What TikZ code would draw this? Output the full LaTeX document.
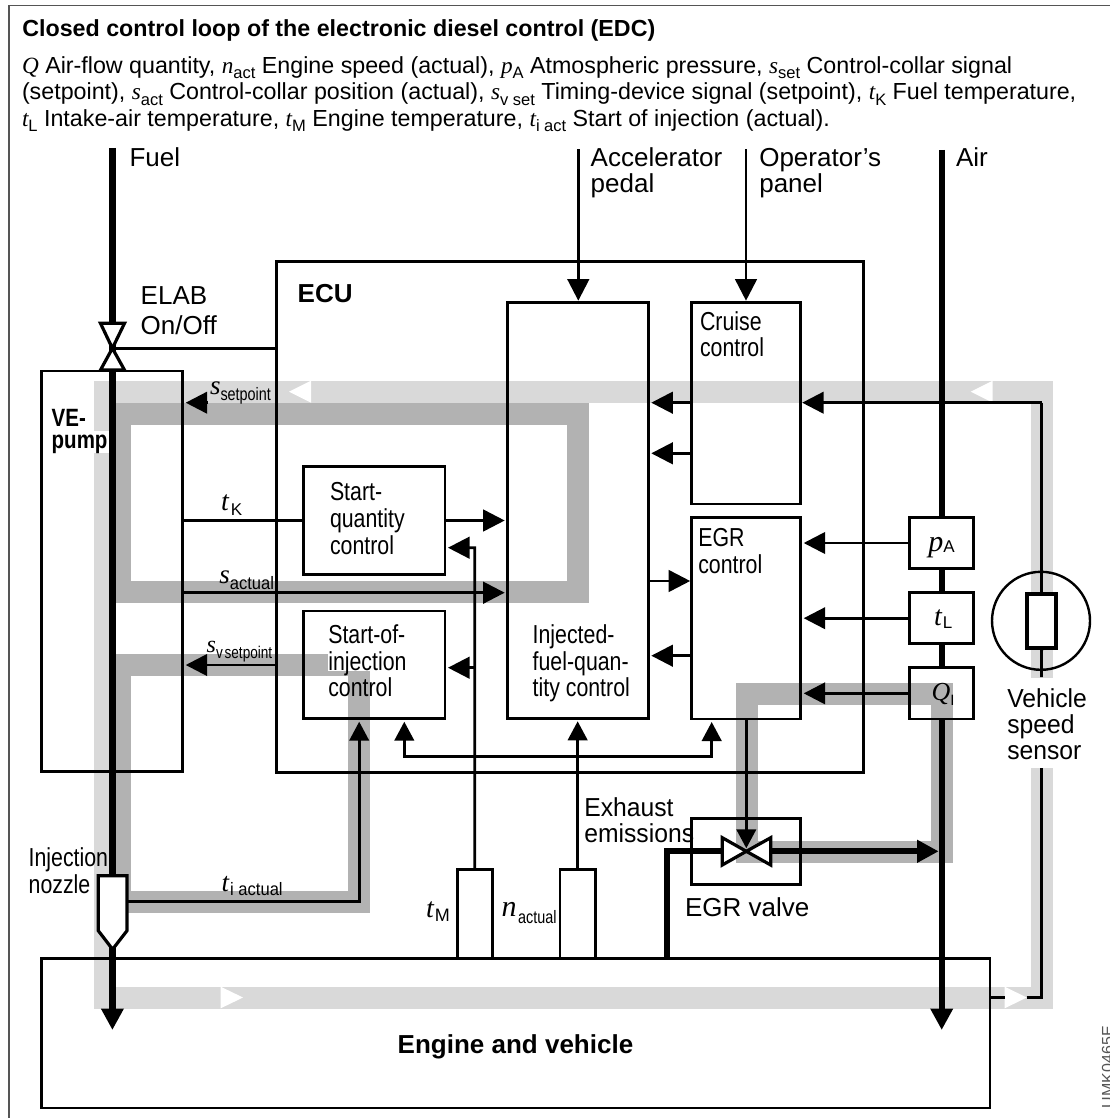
\documentclass[tikz,border=0pt]{standalone}
\usepackage{fontspec}
\usetikzlibrary{arrows.meta}
\setmainfont{Liberation Sans}
\newfontfamily\tms{Liberation Serif}
\newfontfamily\fC[FakeStretch=0.82]{Liberation Sans}
\newfontfamily\fE[FakeStretch=0.80]{Liberation Sans}
\newfontfamily\fN[FakeStretch=0.92]{Liberation Sans}
\newfontfamily\fW[FakeStretch=0.95]{Liberation Sans}
\newcommand\fsz[1]{\fontsize{#1}{#1}\selectfont}
% legend variable: letter, subscript
\newcommand\lv[2]{{\tms\itshape #1}\raisebox{-0.22em}{\fsz{16.5}#2}}
% diagram variable: letter, letter size, subscript (with own font), drop
\newcommand\mv[4]{{\fsz{#2}\tms\itshape #1}\raisebox{-#4pt}{#3}}
\definecolor{lightband}{HTML}{D9D9D9}
\definecolor{darkband}{HTML}{B2B2B2}
\definecolor{framegray}{HTML}{555555}
\tikzset{
  lbl/.style={anchor=base west,inner sep=0pt,outer sep=0pt,font=\fsz{26}},
  ml/.style={lbl,align=left,font=\fontsize{26}{#1}\selectfont},
  legend/.style={anchor=base west,inner sep=0pt,outer sep=0pt,font=\fsz{23.25}},
  blk/.style={draw=black,line width=2.7pt,inner sep=0pt,outer sep=0pt,anchor=north west},
  wblk/.style={blk,fill=white},
  sig/.style={draw=black,line width=2.7pt,line join=miter},
  pipe/.style={draw=black,line width=6.3pt,line join=miter},
  arr/.style={-{Triangle[length=21.5pt,width=21.5pt]},shorten >=3pt},
  arrs/.style={-{Triangle[length=19pt,width=19.5pt]},shorten >=3pt},
  lband/.style={draw=lightband,line width=22pt,line join=miter},
  dband/.style={draw=darkband,line width=22pt,line join=miter},
  valve/.style={draw=black,fill=white,line width=3.2pt,line join=miter},
}
\newcommand\bx[6][blk]{\node[#1,minimum width={(#5-#3)*1pt},minimum height={(#6-#4)*1pt}] (#2) at (#3,#4) {};}
\begin{document}
\begin{tikzpicture}[x=1pt,y=-1pt]
\useasboundingbox (0,0) rectangle (1109,1118);
% frame
\draw[framegray,line width=1.3pt] (9,1130) -- (9,5.7) -- (1125,5.7);
% bands
\draw[lband] (105,391.7) -- (1041.7,391.7) -- (1041.7,997.5) -- (105,997.5) -- cycle;
\fill[white] (1020,678) rectangle (1060,768);
\fill[white] (50,431) rectangle (110,453);
\draw[dband] (120,592) -- (578,592) -- (578,413.7) -- (120,413.7) -- cycle;
\draw[dband] (120,665) -- (359,665) -- (359,902) -- (120,902) -- cycle;
\draw[dband] (746.5,693.7) -- (942,693.7) -- (942,851.5) -- (746.5,851.5) -- cycle;
\fill[white] (328,652) rectangle (406,671);
% white flow triangles
\fill[white] (289,391.7) -- (311,380.7) -- (311,402.7) -- cycle;
\fill[white] (970.7,391.7) -- (992.7,380.7) -- (992.7,402.7) -- cycle;
\fill[white] (243,997.5) -- (220.7,986.7) -- (220.7,1008.3) -- cycle;
\fill[white] (1026.7,997.5) -- (1004.7,986.7) -- (1004.7,1008.3) -- cycle;
% boxes
\bx{ecu}{276.7}{261.3}{863.3}{772.7}
\bx{pump}{41.7}{371}{182.7}{771.8}
\bx{engine}{41.7}{958.3}{990}{1108}
\bx{inj}{507.7}{302.7}{648.3}{718.3}
\bx{cruise}{691.7}{302.7}{800.7}{504}
\bx{egr}{691.7}{517.3}{800.7}{719}
\bx{sq}{303.3}{466.7}{445}{574.3}
\bx{soi}{303.3}{611}{445}{718.7}
\bx{evalve}{691.7}{818.3}{800.7}{884.7}
\bx{tm}{457.3}{869.3}{492.3}{958.3}
\bx{nact}{560}{869.3}{595.3}{958.3}
% named free ends
\coordinate (fuelTop) at (112.4,148);
\coordinate (fuelEnd) at (112.4,1030);
\coordinate (airTop) at (941.7,150);
\coordinate (airEnd) at (941.7,1030);
\coordinate (accTop) at (578.3,149.3);
\coordinate (opTop) at (746,149.3);
\coordinate (valveF) at (112.4,348.3);
\coordinate (valveE) at (746.3,851.3);
\coordinate (exh) at (667.3,851.3);
\coordinate (forkL) at (404.3,756.7);
\coordinate (forkR) at (711.7,756.7);
\coordinate (tmBend) at (474.7,547.7);
\coordinate (tiBend) at (359.2,901.7);
\coordinate (speedBot) at (1041.5,997.5);
\coordinate (speedTop) at (1041.5,402.7);
\coordinate (spdA) at (1004.7,997.5);
\coordinate (spdB) at (1026.7,997.5);
\coordinate (spd1) at (1041.5,768);
\coordinate (spd2) at (1041.5,677);
\coordinate (ssetTail) at (207,402.7);
% heavy lines
\draw[pipe,arr,shorten >=0pt] (fuelTop) -- (fuelEnd);
\draw[pipe,arr,shorten >=0pt] (airTop) -- (airEnd);
% ELAB valve
\draw[sig,line width=3.4pt] (valveF) -- (valveF -| ecu.west);
\draw[valve] (100.5,323.3) -- (124.5,323.3) -- (valveF) -- cycle;
\draw[valve] (100.5,370) -- (124.5,370) -- (valveF) -- cycle;
% thin arrows
\draw[sig,arr,shorten >=2pt] (accTop) -- (accTop |- inj.north);
\draw[sig,arr,shorten >=2pt] (opTop) -- (opTop |- cruise.north);
\draw[sig,arr] (ssetTail) -- (pump.east |- ssetTail);
\draw[sig] (pump.east |- sq.west) -- (sq.west);
\draw[sig,arr] (sq.east) -- (inj.west |- sq.east);
\draw[sig,arr] (pump.east |- 0,592.7) -- (inj.west |- 0,592.7);
\draw[sig,arr] (ecu.west |- 0,665) -- (pump.east |- 0,665);
\draw[sig,arr] (cruise.west |- 0,402.7) -- (inj.east |- 0,402.7);
\draw[sig,arr] (cruise.west |- 0,453.3) -- (inj.east |- 0,453.3);
\draw[sig,arr,shorten >=1.5pt] (inj.east |- 0,581) -- (egr.west |- 0,581);
\draw[sig,arr] (egr.west |- 0,655.7) -- (inj.east |- 0,655.7);
\draw[sig,arr,shorten >=1.5pt] (speedTop) -- (cruise.east |- speedTop);
\draw[sig,arrs] (nact.north) -- (nact.north |- inj.south);
\draw[sig,arr] (tm.north) -- (tmBend) -- (sq.east |- tmBend);
\draw[sig,arr] (tmBend |- 0,667.7) -- (soi.east |- 0,667.7);
\draw[sig,{Triangle[length=19pt,width=19.5pt]}-{Triangle[length=19pt,width=19.5pt]},shorten >=3pt,shorten <=3pt] (forkL |- soi.south) -- (forkL) -- (forkR) -- (forkR |- egr.south);
% nozzle
\draw[valve] (98.3,875.7) -- (127,875.7) -- (127,930.7) -- (112.6,949.3) -- (98.3,930.7) -- cycle;
\draw[sig,arrs] (127,901.7) -- (tiBend) -- (tiBend |- soi.south);
% EGR valve
\draw[sig,arrs,shorten >=3pt] (egr.south -| valveE) -- (valveE);
\draw[pipe,line width=6pt] (exh |- engine.north) -- (exh) -- (722.3,851.3);
\draw[pipe,line width=6pt,arr] (770.7,851.3) -- (airTop |- valveE);
\draw[valve] (722.3,837.7) -- (722.3,865) -- (valveE) -- cycle;
\draw[valve] (770.7,837.7) -- (770.7,865) -- (valveE) -- cycle;
% air sensors
\bx[wblk]{pa}{909.3}{517.3}{973.3}{568.7}
\bx[wblk]{tl}{909.3}{592.7}{973.3}{643.7}
\bx[wblk]{qi}{909.3}{667.7}{973.3}{719}
\fill[darkband] (909.3,682.7) rectangle (953,704.7);
\fill[darkband] (931,682.7) rectangle (953,719);
\bx{qi2}{909.3}{667.7}{973.3}{719}
\draw[sig,arr] (pa.west) -- (egr.east |- pa.west);
\draw[sig,arr] (tl.west) -- (egr.east |- tl.west);
\draw[sig,arr] (qi.west) -- (egr.east |- qi.west);
% speed sensor
\draw[sig] (speedTop) -- (spd2);
\draw[sig] (engine.east |- spdA) -- (spdA);
\draw[sig] (spdB) -- (speedBot) -- (spd1);
\draw[black,line width=2.4pt] (1041,620.8) circle[radius=49];
\node[draw=black,fill=white,line width=4pt,inner sep=0pt,outer sep=0pt,minimum width=28.7pt,minimum height=53.4pt,anchor=north west] (vss) at (1027.3,594.3) {};
\draw[sig] (vss.south) -- (spd2 |- 0,677);
% texts
\node[lbl,font=\fsz{23.25}\bfseries] (title) at (22.3,36.7) {Closed control loop of the electronic diesel control (EDC)};
\node[legend] (leg1) at (22,73.3) {\lv{Q}{} Air-flow quantity, \lv{n}{act} Engine speed (actual), \lv{p}{A} Atmospheric pressure, \lv{s}{set} Control-collar signal};
\node[legend] (leg2) at (22,100) {(setpoint), \lv{s}{act} Control-collar position (actual), \lv{s}{v set} Timing-device signal (setpoint), \lv{t}{K} Fuel temperature,};
\node[legend] (leg3) at (22,126.7) {\lv{t}{L} Intake-air temperature, \lv{t}{M} Engine temperature, \lv{t}{i act} Start of injection (actual).};
\node[lbl] (tfuel) at (129.5,166.7) {Fuel};
\node[ml=26] (tacc) at (590.7,192.7) {Accelerator\\pedal};
\node[ml=26] (top) at (759.3,192.7) {Operator’s\\panel};
\node[lbl] (tair) at (956,166.7) {Air};
\node[ml=30] (telab) at (140.7,334.3) {ELAB\\On/Off};
\node[lbl,font=\fsz{26}\bfseries] (tecu) at (297.7,302.3) {ECU};
\node[lbl,align=left,font=\fontsize{25}{21.7}\selectfont\fC\bfseries] (tpump) at (51.7,448.3) {VE-\\pump};
\node[ml=26.7,font=\fontsize{26}{26.7}\selectfont\fC] (tsq) at (330,554) {Start-\\quantity\\control};
\node[ml=26.4,font=\fontsize{26}{26.4}\selectfont\fC] (tsoi) at (328.3,696.7) {Start-of-\\injection\\control};
\node[ml=26.4,font=\fontsize{26}{26.4}\selectfont\fC] (tinj) at (532.7,696.7) {Injected-\\fuel-quan-\\tity control};
\node[ml=26.7,font=\fontsize{26}{26.7}\selectfont\fC] (tcruise) at (700,356.7) {Cruise\\control};
\node[ml=26.7,font=\fontsize{26}{26.7}\selectfont\fC] (tegr) at (698.3,573.3) {EGR\\control};
\node[ml=26,font=\fontsize{26}{26}\selectfont\fW] (tveh) at (1007.3,759) {Vehicle\\speed\\sensor};
\node[ml=26.7,font=\fontsize{26}{26.7}\selectfont\fC] (tnoz) at (28.7,893.3) {Injection\\nozzle};
\node[ml=26,font=\fontsize{26}{26}\selectfont\fW] (texh) at (584.3,842.7) {Exhaust\\emissions};
\node[lbl] (tevalve) at (685,916) {EGR valve};
\node[lbl,font=\fsz{26}\bfseries] (tengine) at (397.7,1053.3) {Engine and vehicle};
\node[lbl] (lsset) at (210,394) {\mv{s}{27}{\fsz{18}\fE setpoint}{6}};
\node[lbl] (ltk) at (221,510.7) {\mv{t}{28}{\hspace{2pt}\fsz{17}K}{4.5}};
\node[lbl] (lsact) at (219.3,583.3) {\mv{s}{27}{\fsz{18}\fN actual}{6.5}};
\node[lbl] (lsv) at (206.7,652.7) {\mv{s}{24}{\fsz{17}\fE v\hspace{-2pt} setpoint}{5.5}};
\node[lbl] (lti) at (221.7,891.7) {\mv{t}{27}{\hspace{1pt}\fsz{18}\fN i actual}{3.5}};
\node[lbl] (ltm) at (426,917.3) {\mv{t}{28}{\hspace{1pt}\fsz{18}M}{4.4}};
\node[lbl] (lna) at (501.7,916.7) {\mv{n}{30}{\hspace{1.5pt}\fsz{18}\fE actual}{6.6}};
\node[lbl] (lpa) at (928.3,551.7) {\mv{p}{30}{\fsz{17}A}{1}};
\node[lbl] (ltl) at (934,625) {\mv{t}{28}{\hspace{1pt}\fsz{17}L}{3.3}};
\node[lbl] (lqi) at (931.7,700) {\mv{Q}{26}{\fsz{15}I}{5.7}};
\node[anchor=base west,inner sep=0pt,rotate=90,font=\fsz{16},text=framegray] (code) at (1113,1108.3) {UMK0465E};
\end{tikzpicture}
\end{document}
